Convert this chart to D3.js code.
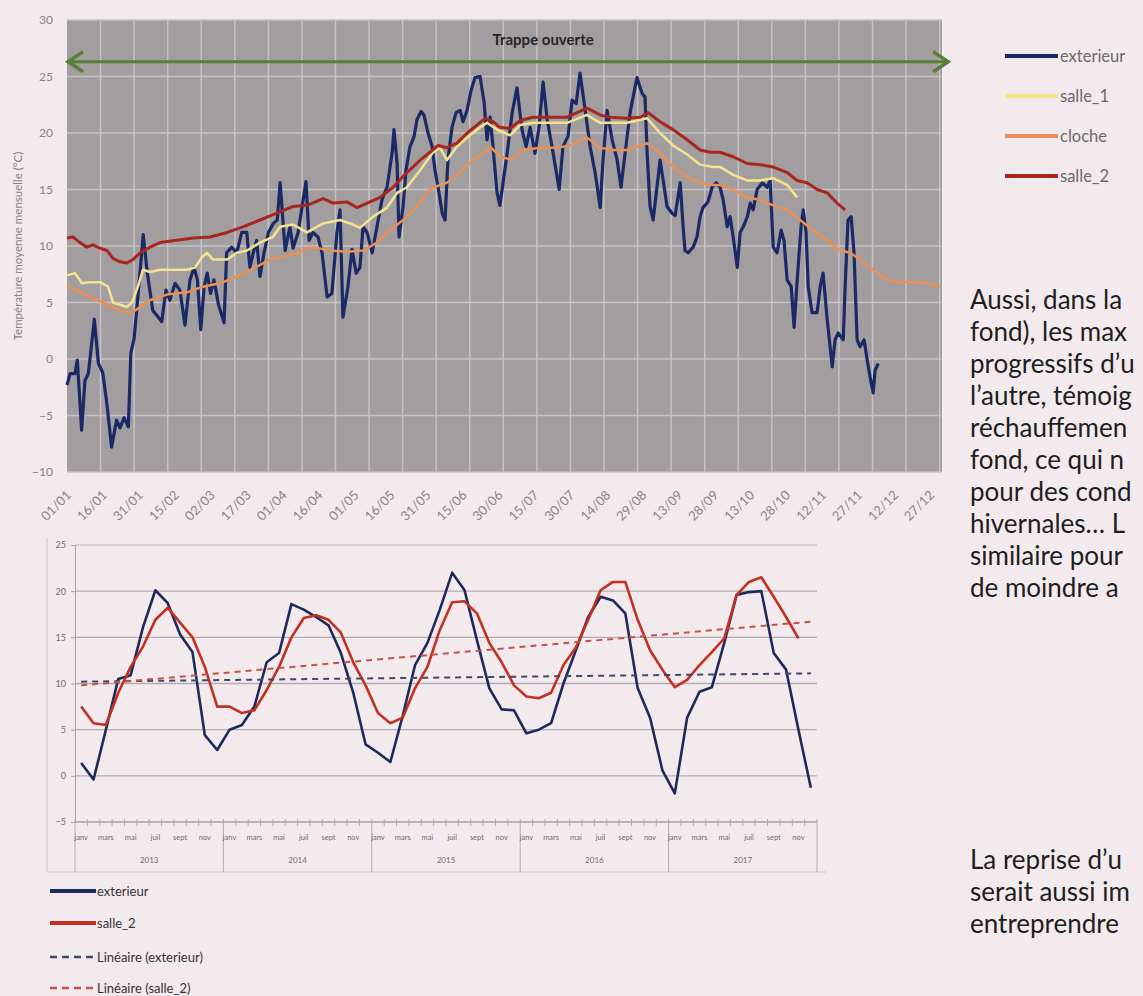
<html>
<head>
  <meta charset="utf-8">
  <script src="https://cdn.jsdelivr.net/npm/d3@7/dist/d3.min.js"></script>
</head>
<style>
  body { margin: 0; background: #f3eaee; }
  svg { display: block; }
  text { font-family: Lato, "Open Sans", sans-serif; }
</style>
<body>
  <svg id="page" width="1143" height="996"></svg>

  <script type="text/javascript">
    // ---- top chart : daily temperatures, [day of year, °C] ----
    var exterieur = [[0,-2.3],[1.3,-1.3],[3.3,-1.3],[4.3,-0.1],[6.1,-6.3],[7.5,-1.9],[8.9,-1.3],[11.4,3.5],[13.1,-0.4],[14.9,-1.2],[16.6,-3.9],[18.6,-7.8],[20.7,-5.4],[22.1,-6.1],[23.8,-5.2],[25.6,-6.0],[26.6,0.5],[28.0,1.8],[29.7,5.8],[31.8,11.0],[33.5,7.6],[35.8,4.3],[38.1,3.7],[39.5,3.3],[41.3,6.1],[42.9,5.2],[45.1,6.7],[47.1,6.1],[49.2,3.0],[51.3,7.0],[53.0,8.1],[54.4,7.0],[55.8,2.6],[57.2,6.4],[58.5,7.6],[59.9,5.8],[61.3,7.0],[63.1,4.9],[65.5,3.2],[66.6,9.4],[68.7,9.9],[70.8,9.4],[72.9,11.2],[75.0,11.2],[76.3,8.1],[77.7,9.4],[79.1,10.5],[80.5,7.3],[82.2,9.4],[84.0,11.2],[86.1,12.0],[87.7,12.3],[88.9,15.6],[91.0,9.6],[93.0,11.7],[94.3,9.8],[96.4,11.2],[99.7,15.7],[101.0,10.5],[102.6,11.2],[104.7,10.8],[106.4,9.4],[108.5,5.5],[110.5,5.8],[112.6,11.2],[113.9,13.2],[115.1,3.7],[117.2,6.4],[118.9,9.7],[120.6,7.6],[122.2,8.1],[123.5,11.7],[125.2,11.2],[127.3,9.4],[129.3,11.7],[131.4,14.1],[133.5,15.2],[135.6,18.2],[136.4,20.3],[137.7,17.3],[138.5,10.8],[140.2,13.5],[141.4,16.7],[143.1,18.8],[144.8,19.7],[146.0,21.2],[147.7,21.9],[148.9,21.6],[150.6,20.0],[152.3,18.8],[153.5,16.7],[154.8,15.2],[156.5,12.9],[157.7,12.3],[158.9,17.6],[160.6,20.5],[162.3,21.8],[164.0,22.0],[165.2,21.0],[166.9,22.0],[168.6,23.8],[170.2,24.9],[172.3,25.0],[174.0,22.7],[175.2,19.4],[176.5,21.4],[177.7,18.8],[179.4,14.7],[180.6,13.6],[183.6,18.2],[185.7,21.8],[187.7,24.0],[189.8,20.3],[191.5,18.8],[193.2,20.5],[195.2,18.2],[196.9,20.5],[198.6,24.5],[200.3,21.2],[202.8,18.2],[205.3,15.0],[206.9,18.8],[209.0,19.7],[210.7,22.9],[212.4,22.6],[214.0,25.3],[216.1,22.1],[218.2,18.8],[220.3,16.5],[222.4,13.4],[223.6,17.6],[225.3,22.0],[227.4,19.4],[229.5,17.6],[231.1,15.2],[232.8,18.2],[234.9,21.8],[237.0,24.1],[237.8,24.9],[239.9,23.5],[241.1,23.2],[242.0,18.2],[243.2,13.5],[244.5,12.3],[246.1,15.2],[247.4,17.6],[248.7,15.8],[250.3,13.5],[252.4,12.9],[253.7,12.7],[255.8,15.6],[257.0,11.7],[257.8,9.6],[259.1,9.4],[261.2,9.9],[262.8,10.8],[264.1,12.6],[265.3,13.4],[267.4,13.9],[269.1,15.2],[270.8,15.6],[272.4,15.2],[273.7,14.1],[275.4,11.7],[276.6,12.6],[277.9,10.8],[279.6,8.1],[280.8,11.2],[282.1,11.7],[283.8,12.6],[285.0,13.8],[286.2,13.2],[287.9,15.0],[290.0,15.6],[292.1,15.2],[293.3,15.8],[294.6,9.9],[296.2,9.4],[297.9,11.4],[299.1,10.5],[300.4,7.0],[302.1,6.4],[303.3,2.8],[304.6,7.0],[306.2,11.7],[307.1,13.2],[308.3,11.2],[309.2,6.4],[310.8,4.1],[312.9,4.1],[314.2,6.4],[315.4,7.6],[317.1,3.5],[319.2,-0.7],[320.4,1.7],[321.7,2.3],[323.8,1.7],[324.6,6.4],[325.8,12.3],[327.1,12.6],[328.3,9.4],[329.6,1.7],[330.8,1.1],[332.5,1.7],[333.8,-0.1],[335.0,-1.6],[336.3,-3.0],[337.1,-1.0],[338.4,-0.4]];

    var salle1 = [[0,7.4],[3.3,7.6],[6.3,6.7],[9.6,6.8],[13.8,6.8],[17.1,6.4],[19.2,5.0],[22.1,4.8],[25.0,4.6],[27.1,5.0],[29.6,6.4],[31.7,7.9],[34.6,7.7],[38.8,7.9],[44.2,7.9],[50.1,7.9],[53.4,8.1],[56.3,9.0],[58.4,9.4],[60.9,8.8],[66.8,8.8],[70.9,9.4],[75.1,9.6],[80.5,10.3],[85.9,10.8],[88.9,11.7],[94.3,11.9],[100.1,11.2],[106.8,12.0],[113.9,12.3],[119.3,11.9],[122.2,11.6],[127.7,12.6],[133.5,13.4],[137.7,14.7],[141.8,15.2],[147.3,16.7],[152.7,18.3],[155.6,18.7],[158.5,17.6],[162.7,18.8],[166.9,19.6],[172.3,20.5],[175.2,20.9],[179.4,20.3],[184.8,19.8],[189.0,20.7],[194.4,20.9],[201.5,20.9],[208.6,20.9],[216.9,21.6],[222.4,20.9],[227.8,20.9],[233.6,20.9],[242.0,21.3],[247.4,20.0],[252.8,18.9],[258.7,18.1],[264.1,17.2],[269.5,17.0],[272.4,17.0],[277.9,16.3],[283.7,15.8],[289.1,15.8],[294.5,16.0],[300.4,15.4],[304.6,14.3]];

    var cloche = [[0,6.4],[4.2,6.1],[9.6,5.5],[15.0,5.0],[19.2,4.6],[23.4,4.2],[27.1,4.1],[30.5,4.6],[34.6,5.2],[41.7,5.7],[50.1,5.9],[56.7,6.4],[63.8,6.7],[70.9,7.3],[77.6,8.0],[84.7,8.8],[88.9,9.0],[96.0,9.4],[102.6,9.9],[109.7,9.6],[116.8,9.5],[123.5,9.6],[129.3,10.3],[134.8,11.4],[140.2,12.3],[146.0,13.5],[151.4,15.0],[155.6,15.4],[158.5,15.6],[164.0,16.5],[169.4,17.6],[173.6,18.2],[176.5,18.8],[180.6,17.9],[186.1,17.6],[190.2,18.5],[197.3,18.7],[204.4,18.7],[209.8,18.9],[216.9,19.6],[222.4,18.7],[227.8,18.5],[233.6,18.5],[242.0,19.1],[247.4,18.2],[252.8,17.0],[258.7,16.1],[264.1,15.6],[269.5,15.4],[272.4,15.4],[277.9,15.0],[283.7,14.3],[289.1,14.1],[294.5,13.6],[300.4,13.2],[305.8,12.3],[311.2,11.4],[317.1,10.5],[322.5,9.6],[326.7,9.4],[330.8,8.8],[336.3,7.9],[342.1,7.0],[347.5,6.8],[353.0,6.8],[358.8,6.7],[364.2,6.4]];

    var salle2 = [[0,10.7],[2.5,10.8],[5.4,10.3],[8.3,9.9],[10.8,10.1],[13.8,9.8],[16.7,9.6],[19.2,8.9],[22.1,8.6],[25.0,8.5],[27.5,8.8],[30.5,9.4],[34.6,9.9],[38.8,10.3],[45.9,10.5],[52.6,10.7],[59.7,10.8],[66.8,11.2],[73.4,11.7],[80.5,12.3],[87.6,12.9],[94.3,13.5],[100.1,13.6],[106.8,14.2],[111.0,13.8],[116.8,13.9],[121.0,13.4],[126.4,13.9],[130.6,14.3],[136.0,15.2],[141.8,16.5],[147.3,17.6],[151.4,18.3],[154.8,18.9],[158.5,18.7],[162.7,19.1],[166.9,20.0],[171.0,20.7],[174.4,21.3],[177.7,21.0],[180.6,20.5],[184.8,20.4],[189.0,21.1],[194.4,21.4],[201.5,21.4],[208.6,21.4],[216.9,22.2],[222.4,21.6],[226.5,21.4],[233.6,21.3],[239.1,21.4],[242.4,21.8],[247.4,21.0],[252.8,20.3],[258.7,19.4],[264.1,18.5],[268.3,18.3],[272.4,18.3],[277.9,17.9],[283.7,17.3],[289.1,17.2],[294.5,17.0],[300.4,16.5],[304.6,15.8],[308.7,15.6],[312.9,15.0],[317.1,14.7],[321.2,13.8],[324.6,13.2]];

    var topTickDays = d3.range(0, 361, 15);
    var topTickLabels = ['01/01','16/01','31/01','15/02','02/03','17/03','01/04','16/04','01/05','16/05','31/05','15/06','30/06','15/07','30/07','14/08','29/08','13/09','28/09','13/10','28/10','12/11','27/11','12/12','27/12'];
    var topSeries = ['exterieur', 'salle_1', 'cloche', 'salle_2'];
    var trappe = { label: 'Trappe ouverte', from: 0, to: 368, level: 26.3 };

    // ---- bottom chart : monthly means 2013-2017 ----
    var years = ['2013', '2014', '2015', '2016', '2017'];
    var monthLabels = ['janv', '', 'mars', '', 'mai', '', 'juil', '', 'sept', '', 'nov', ''];
    var extMonthly = [1.4,-0.4,5.0,10.5,10.9,16.1,20.1,18.7,15.3,13.4,4.4,2.8, 5.0,5.5,7.5,12.3,13.3,18.6,18.0,17.2,16.3,13.3,9.0,3.4, 2.5,1.5,6.5,12.0,14.4,18.0,22.0,20.1,14.7,9.5,7.2,7.1, 4.6,5.0,5.7,10.0,13.6,17.2,19.4,19.0,17.6,9.5,6.3,0.6, -1.9,6.3,9.1,9.6,14.4,19.6,19.9,20.0,13.3,11.5,5.0,-1.3];
    var sal2Monthly = [7.5,5.7,5.5,9.0,11.8,14.0,16.9,18.2,16.6,15.0,11.8,7.5, 7.5,6.8,7.1,9.3,11.8,15.0,17.1,17.4,16.9,15.5,12.3,9.8, 6.8,5.7,6.3,9.5,11.8,15.8,18.8,18.9,17.6,14.4,12.3,9.8, 8.6,8.4,9.0,12.0,13.9,16.9,20.1,21.0,21.0,16.9,13.6,11.5, 9.6,10.4,12.0,13.4,14.9,19.6,21.0,21.5,19.4,17.2,14.9];
    // linear trends (start, end) as drawn
    var trendExt = [10.2, 11.1];
    var trendSal2 = [9.8, 16.7];
    var bottomLegend = ['exterieur', 'salle_2', 'Linéaire (exterieur)', 'Linéaire (salle_2)'];

    var paragraph1 = ['Aussi, dans la', 'fond), les max', 'progressifs d’u', 'l’autre, témoig', 'réchauffemen', 'fond, ce qui n', 'pour des cond', 'hivernales… L', 'similaire pour', 'de moindre a'];
    var paragraph2 = ['La reprise d’u', 'serait aussi im', 'entreprendre'];

    var svg = d3.select('#page');
    svg.append('rect').attr('width', 1143).attr('height', 996).attr('fill', '#f3eaee');

    //top chart
    var xTop = d3.scaleLinear().domain([0, 365]).range([67, 942]);
    var yTop = d3.scaleLinear().domain([-10, 30]).range([472, 20]);
    var colorTop = d3.scaleOrdinal().domain(topSeries).range(['#1b2966', '#f3e38e', '#ea8f55', '#a8261f']);
    var widthTop = { exterieur: 3.2, salle_1: 2.5, cloche: 2.5, salle_2: 3 };
    var gTop = svg.append('g');

    gTop.append('rect')
      .attr('x', xTop(0)).attr('y', yTop(30))
      .attr('width', xTop(365) - xTop(0))
      .attr('height', yTop(-10) - yTop(30))
      .attr('fill', '#a29ea0');
    gTop.selectAll('line.hg')
      .data(d3.range(-10, 31, 5))
      .enter().append('line')
      .attr('x1', xTop(0)).attr('x2', xTop(365))
      .attr('y1', function (d) { return yTop(d); })
      .attr('y2', function (d) { return yTop(d); })
      .attr('stroke', '#c6c2c4').attr('stroke-width', 1.5);
    gTop.selectAll('line.vg')
      .data(d3.range(14, 365, 14))
      .enter().append('line')
      .attr('x1', function (d) { return xTop(d); })
      .attr('x2', function (d) { return xTop(d); })
      .attr('y1', yTop(30)).attr('y2', yTop(-10))
      .attr('stroke', '#c6c2c4').attr('stroke-width', 1.5);

    var yAxisTop = d3.axisLeft(yTop).tickValues(d3.range(-10, 31, 5)).tickSize(0).tickPadding(14);
    gTop.append('g')
      .attr('transform', 'translate(' + xTop(0) + ',0)')
      .call(yAxisTop)
      .call(function (g) { g.select('.domain').remove(); })
      .selectAll('text')
      .attr('font-family', 'Lato, sans-serif')
      .attr('font-size', 12)
      .attr('fill', '#858385');

    gTop.selectAll('text.xl')
      .data(topTickDays)
      .enter().append('text')
      .attr('text-anchor', 'end')
      .attr('font-size', 13)
      .attr('fill', '#878587')
      .attr('transform', function (d) { return 'translate(' + (xTop(d) + 5) + ',496) rotate(-45)'; })
      .text(function (d, i) { return topTickLabels[i]; });

    gTop.append('text')
      .attr('text-anchor', 'middle')
      .attr('font-size', 11.5)
      .attr('fill', '#858385')
      .attr('transform', 'translate(22,' + yTop(10) + ') rotate(-90)')
      .text('Température moyenne mensuelle (°C)');

    var lineTop = d3.line()
      .x(function (d) { return xTop(d[0]); })
      .y(function (d) { return yTop(d[1]); });
    var topData = { exterieur: exterieur, salle_1: salle1, cloche: cloche, salle_2: salle2 };
    topSeries.forEach(function (s) {
      gTop.append('path')
        .attr('d', lineTop(topData[s]))
        .attr('fill', 'none')
        .attr('stroke', colorTop(s))
        .attr('stroke-width', widthTop[s])
        .attr('stroke-linejoin', 'round');
    });

    // arrow "Trappe ouverte"
    var ay = yTop(trappe.level), ax1 = xTop(trappe.from), ax2 = xTop(trappe.to);
    gTop.append('line')
      .attr('x1', ax1).attr('x2', ax2).attr('y1', ay).attr('y2', ay)
      .attr('stroke', '#56803a').attr('stroke-width', 3);
    gTop.append('path')
      .attr('d', 'M' + (ax1 + 16) + ',' + (ay - 10) + 'L' + (ax1 + 1) + ',' + ay + 'L' + (ax1 + 16) + ',' + (ay + 10))
      .attr('fill', 'none').attr('stroke', '#56803a').attr('stroke-width', 3.5);
    gTop.append('path')
      .attr('d', 'M' + (ax2 - 16) + ',' + (ay - 10) + 'L' + (ax2 - 1) + ',' + ay + 'L' + (ax2 - 16) + ',' + (ay + 10))
      .attr('fill', 'none').attr('stroke', '#56803a').attr('stroke-width', 3.5);
    gTop.append('text')
      .attr('x', (ax1 + ax2) / 2 + 35)
      .attr('y', ay - 17)
      .attr('text-anchor', 'middle')
      .attr('font-size', 15)
      .attr('font-weight', 'bold')
      .attr('fill', '#262626')
      .text(trappe.label);

    // legend top right
    var legTop = svg.append('g').attr('transform', 'translate(1005,56)');
    topSeries.forEach(function (s, i) {
      legTop.append('line')
        .attr('x1', 0).attr('x2', 53).attr('y1', i * 40).attr('y2', i * 40)
        .attr('stroke', colorTop(s)).attr('stroke-width', 4);
      legTop.append('text')
        .attr('x', 55).attr('y', i * 40 + 6)
        .attr('font-size', 16.5)
        .attr('fill', '#6a6a6a')
        .text(s);
    });

    //bottom chart
    var xBot = d3.scaleBand().domain(d3.range(60)).range([75, 817]);
    var yBot = d3.scaleLinear().domain([-5, 25]).range([822, 545]);
    var half = xBot.bandwidth() / 2;
    var gBot = svg.append('g');

    gBot.append('line').attr('x1', 47).attr('x2', 47).attr('y1', 538).attr('y2', 872)
      .attr('stroke', '#d9d1d5').attr('stroke-width', 1.5);
    gBot.append('line').attr('x1', 47).attr('x2', 826).attr('y1', 872).attr('y2', 872)
      .attr('stroke', '#d9d1d5').attr('stroke-width', 1.5);

    gBot.selectAll('line.hg')
      .data(d3.range(0, 26, 5))
      .enter().append('line')
      .attr('x1', 75).attr('x2', 817)
      .attr('y1', function (d) { return yBot(d); })
      .attr('y2', function (d) { return yBot(d); })
      .attr('stroke', function (d) { return d === 25 ? '#d0c8cc' : '#b3abaf'; })
      .attr('stroke-width', 1.3);

    var yAxisBot = d3.axisLeft(yBot).tickValues(d3.range(-5, 26, 5)).tickSize(4).tickPadding(5);
    gBot.append('g')
      .attr('transform', 'translate(75,0)')
      .call(yAxisBot)
      .call(function (g) {
        g.selectAll('line, path').attr('stroke', '#a9a1a5');
        g.selectAll('text').attr('font-family', 'Lato, sans-serif').attr('font-size', 9).attr('fill', '#6d6d6d');
      });

    gBot.append('line').attr('x1', 75).attr('x2', 817).attr('y1', yBot(-5)).attr('y2', yBot(-5))
      .attr('stroke', '#a9a1a5').attr('stroke-width', 1.3);
    gBot.selectAll('line.mt')
      .data(d3.range(61))
      .enter().append('line')
      .attr('x1', function (d) { return d < 60 ? xBot(d) : 817; })
      .attr('x2', function (d) { return d < 60 ? xBot(d) : 817; })
      .attr('y1', yBot(-5) - 3)
      .attr('y2', function (d) { return d % 12 === 0 ? 872 : yBot(-5) + 4; })
      .attr('stroke', '#b3abaf').attr('stroke-width', 1);

    gBot.selectAll('text.ml')
      .data(d3.range(60))
      .enter().append('text')
      .attr('x', function (d) { return xBot(d) + half; })
      .attr('y', 840)
      .attr('text-anchor', 'middle')
      .attr('font-size', 7.5)
      .attr('fill', '#6d6d6d')
      .text(function (d) { return monthLabels[d % 12]; });

    gBot.selectAll('text.yr')
      .data(years)
      .enter().append('text')
      .attr('x', function (d, i) { return (xBot(i * 12) + (i < 4 ? xBot(i * 12 + 12) : 817)) / 2; })
      .attr('y', 863)
      .attr('text-anchor', 'middle')
      .attr('font-size', 8)
      .attr('fill', '#6d6d6d')
      .text(function (d) { return d; });

    var lineBot = d3.line()
      .x(function (d, i) { return xBot(i) + half; })
      .y(function (d) { return yBot(d); });
    gBot.append('path').attr('d', lineBot(extMonthly))
      .attr('fill', 'none').attr('stroke', '#1f2a5c').attr('stroke-width', 2.6).attr('stroke-linejoin', 'round');
    gBot.append('path').attr('d', lineBot(sal2Monthly))
      .attr('fill', 'none').attr('stroke', '#c4301f').attr('stroke-width', 2.6).attr('stroke-linejoin', 'round');

    [[trendExt, '#3d4a68'], [trendSal2, '#c2524a']].forEach(function (t) {
      gBot.append('line')
        .attr('x1', xBot(0) + half).attr('x2', xBot(59) + half)
        .attr('y1', yBot(t[0][0])).attr('y2', yBot(t[0][1]))
        .attr('stroke', t[1]).attr('stroke-width', 2)
        .attr('stroke-dasharray', '6,5');
    });

    // legend bottom
    var legBot = svg.append('g').attr('transform', 'translate(50,891)');
    var legStyles = [['#1f2a5c', null], ['#c4301f', null], ['#3d4a68', '7,5'], ['#c2524a', '7,5']];
    bottomLegend.forEach(function (s, i) {
      var y = [0, 32, 66, 97][i];
      legBot.append('line')
        .attr('x1', 0).attr('x2', 46).attr('y1', y).attr('y2', y)
        .attr('stroke', legStyles[i][0])
        .attr('stroke-width', legStyles[i][1] ? 2.5 : 4)
        .attr('stroke-dasharray', legStyles[i][1]);
      legBot.append('text')
        .attr('x', 47).attr('y', y + 5)
        .attr('font-size', 13)
        .attr('fill', '#333')
        .text(s);
    });

    // text on the right
    var txt = svg.append('g').attr('font-size', 26).attr('fill', '#1e1e1e');
    txt.selectAll('text.p1')
      .data(paragraph1)
      .enter().append('text')
      .attr('x', 970).attr('y', function (d, i) { return 309 + 32 * i; })
      .text(function (d) { return d; });
    txt.selectAll('text.p2')
      .data(paragraph2)
      .enter().append('text')
      .attr('x', 970).attr('y', function (d, i) { return 869 + 32 * i; })
      .text(function (d) { return d; });
  </script>
</body>
</html>
